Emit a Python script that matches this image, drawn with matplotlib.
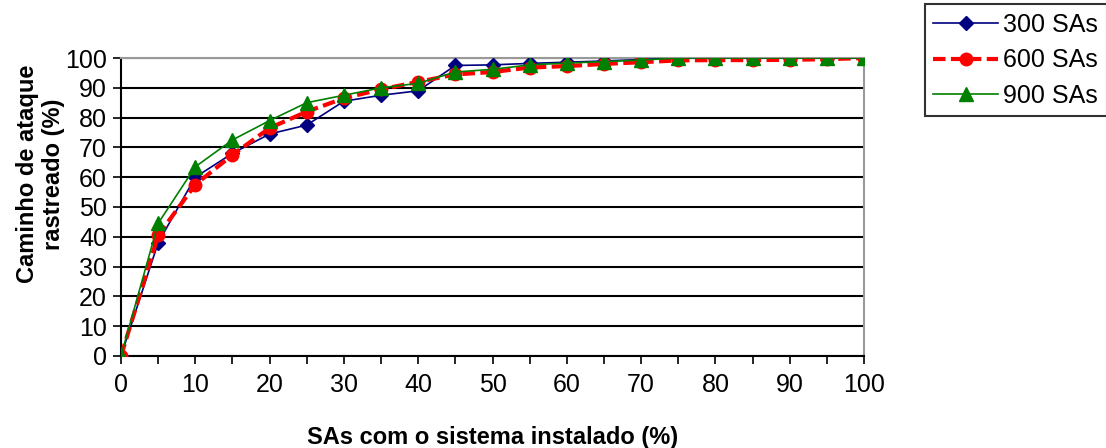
import matplotlib
matplotlib.use("Agg")
from matplotlib import pyplot as plt

plt.rcParams['font.family'] = ['Liberation Sans', 'DejaVu Sans']

# x positions (% of SAs with the system installed)
sas_pct = [0, 5, 10, 15, 20, 25, 30, 35, 40, 45, 50,
           55, 60, 65, 70, 75, 80, 85, 90, 95, 100]

# traced attack path (%) per scenario
sas_300 = [0, 38, 60, 68, 74.5, 77.5, 85.5, 87.5, 89, 97.5, 97.7,
           98.2, 98.6, 99, 99.5, 100, 100, 100, 100, 100, 100]
sas_600 = [0, 40.5, 57.5, 67.5, 76.5, 82, 86.5, 89.5, 92, 94.5, 95.3,
           96.8, 97.3, 98, 98.6, 99.2, 99.3, 99.3, 99.4, 99.6, 100]
sas_900 = [0, 44.5, 63.5, 72.5, 79, 85, 87.5, 90, 91.5, 95.3, 96.2,
           97.7, 98.3, 98.8, 99.3, 100, 100, 100, 100, 100, 100]

fig = plt.figure(figsize=(11.06, 4.48), dpi=100)
ax = fig.add_axes([0.1094, 0.2054, 0.6718, 0.6651])

ax.plot(sas_pct, sas_300, color='#000080', lw=1.2, marker='D', ms=7, label='300 SAs', zorder=3)
ax.plot(sas_pct, sas_600, color='#ff0000', lw=3, ls=(0, (3, 1.3)), marker='o', ms=9,
        label='600 SAs', zorder=4)
ax.plot(sas_pct, sas_900, color='#008000', lw=1.2, marker='^', ms=10, label='900 SAs', zorder=5)

ax.set_xlim(0, 100)
ax.set_ylim(0, 100)
ax.set_xticks(range(0, 101, 5))
ax.set_xticklabels([str(v) if v % 10 == 0 else '' for v in range(0, 101, 5)])
ax.set_yticks(range(0, 101, 10))
ax.tick_params(direction='out', length=6, width=1.2, labelsize=18, colors='black')
ax.tick_params(axis='x', pad=6)
ax.tick_params(axis='y', pad=4)

ax.yaxis.grid(True, color='black', lw=1.5)
ax.set_axisbelow(True)
for s in ['left', 'bottom']:
    ax.spines[s].set_linewidth(1.5)
for s in ['top', 'right']:
    ax.spines[s].set_color('#999999')
    ax.spines[s].set_linewidth(1.5)

ax.set_xlabel('SAs com o sistema instalado (%)', fontsize=17, fontweight='bold')
ax.xaxis.set_label_coords(0.5, -0.235)
ax.set_ylabel('Caminho de ataque\nrastreado (%)', fontsize=17, fontweight='bold',
              linespacing=1.15)
ax.yaxis.set_label_coords(-0.076, 0.61)

leg = fig.legend(loc='upper left', bbox_to_anchor=(0.836, 0.99), fontsize=18,
                 frameon=True, fancybox=False, edgecolor='black', handlelength=2.6,
                 borderpad=0.35, labelspacing=0.45, handletextpad=0.2, borderaxespad=0)
leg.get_frame().set_linewidth(1.5)

fig.savefig('out.png', dpi=100)
